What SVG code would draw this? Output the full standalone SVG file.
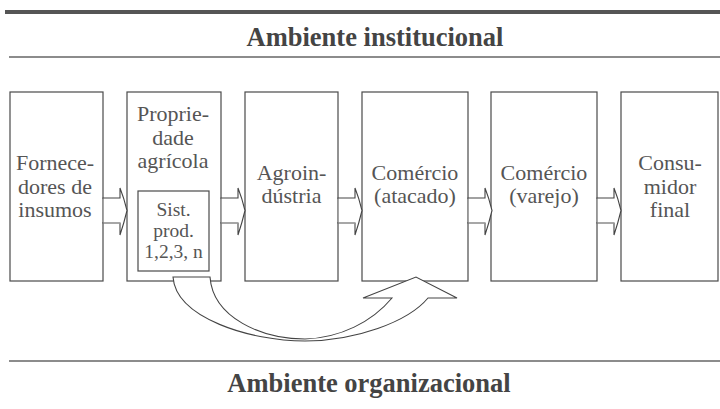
<svg xmlns="http://www.w3.org/2000/svg" width="720" height="409" viewBox="0 0 720 409">
<style>
.box{fill:#fff;stroke:#4a4a4a;stroke-width:1.2}
.t{font-family:"Liberation Serif","Times New Roman",serif;font-size:22px;fill:#555;text-anchor:middle}
.ts{font-family:"Liberation Serif","Times New Roman",serif;font-size:19.5px;fill:#555;text-anchor:middle}
.title{font-family:"Liberation Serif","Times New Roman",serif;font-size:26.5px;font-weight:bold;fill:#444;text-anchor:middle}
.arr{fill:#fff;stroke:#444;stroke-width:1.1;stroke-linejoin:miter}
.lite{stroke:#aaa;stroke-width:1.4;fill:none}
</style>
<defs>
<g id="blk">
<path class="arr" d="M0,0 H17 V-10 Q21,0 24,12.5 Q21,25 17,37 V25 H0 Z" stroke-dasharray="none"/>
<line class="lite" x1="0.5" y1="25" x2="17" y2="25"/>
<line class="lite" x1="0" y1="0.7" x2="0" y2="24.3"/>
</g>
</defs>
<g id="frame">
<line x1="5" y1="12" x2="720" y2="12" stroke="#555" stroke-width="4"/>
<line x1="9" y1="57" x2="720" y2="57" stroke="#666" stroke-width="1.5"/>
<line x1="9" y1="361" x2="720" y2="361" stroke="#666" stroke-width="1.5"/>
<text class="title" x="375" y="46">Ambiente institucional</text>
<text class="title" x="369" y="392">Ambiente organizacional</text>
</g>
<g id="n1">
<rect class="box" x="10" y="92" width="93" height="189"/>
<text class="t" x="55" y="170">Fornece-</text>
<text class="t" x="55" y="194">dores de</text>
<text class="t" x="55" y="217">insumos</text>
</g>
<g id="n2">
<rect class="box" x="127" y="92" width="94" height="189"/>
<text class="t" x="173" y="121">Proprie-</text>
<text class="t" x="173" y="145">dade</text>
<text class="t" x="173" y="168">agrícola</text>
<g id="n2sub">
<rect class="box" x="138" y="191" width="71" height="80"/>
<text class="ts" x="173.5" y="216">Sist.</text>
<text class="ts" x="173.5" y="237">prod.</text>
<text class="ts" x="173.5" y="258">1,2,3, n</text>
</g>
</g>
<g id="n3">
<rect class="box" x="245" y="92" width="93" height="189"/>
<text class="t" x="291.5" y="180">Agroin-</text>
<text class="t" x="291.5" y="203">dústria</text>
</g>
<g id="n4">
<rect class="box" x="362" y="92" width="106" height="189"/>
<text class="t" x="415" y="180">Comércio</text>
<text class="t" x="415" y="203">(atacado)</text>
</g>
<g id="n5">
<rect class="box" x="491" y="92" width="106" height="189"/>
<text class="t" x="544" y="180">Comércio</text>
<text class="t" x="544" y="203">(varejo)</text>
</g>
<g id="n6">
<rect class="box" x="621" y="92" width="97" height="189"/>
<text class="t" x="670" y="170">Consu-</text>
<text class="t" x="670" y="194">midor</text>
<text class="t" x="670" y="217">final</text>
</g>
<g id="connectors">
<use href="#blk" x="103" y="198"/>
<use href="#blk" x="221" y="198"/>
<use href="#blk" x="338" y="198"/>
<use href="#blk" x="468" y="198"/>
<use href="#blk" x="597" y="198"/>
<path class="arr" d="M173,277 C176,318 250,341 305,341 C355,341 408,322 428,298 L457,298 L416,277 L363,298 L392,298 C372,322 340,338 305,339 C262,339 213,318 210,277 Z"/>
</g>
</svg>
